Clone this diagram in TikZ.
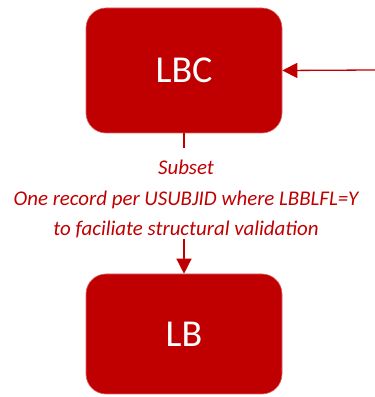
\documentclass[tikz,border=0pt]{standalone}
\usepackage{fontspec}
\setmainfont{Carlito}
\usetikzlibrary{arrows.meta}
\definecolor{boxred}{HTML}{C00000}
\tikzset{
  box/.style={fill=boxred, draw=boxred!60!white, line width=0.6pt, rounded corners=20pt, minimum width=196pt, inner sep=0pt, text=white, font=\fontsize{38}{40}\selectfont},
  conn/.style={draw=boxred, line width=1.3pt},
  arr/.style={conn, -{Triangle[length=15pt, width=15pt]}},
  lbl/.style={text=boxred, align=center, font=\fontsize{20.9}{30.5}\selectfont\itshape, inner sep=0pt}
}
\begin{document}
\begin{tikzpicture}[x=1pt,y=1pt]
\useasboundingbox (0,0) rectangle (375,397);
\node[box, minimum height=125pt] (LBC) at (184,326.5) {LBC};
\node[box, minimum height=120pt] (LB) at (184,63) {LB};
\coordinate (rin) at (375,327);
\draw[arr] (rin) -- (LBC.east);
\coordinate (g1) at (184,249);
\coordinate (g2) at (184,158);
\node[lbl] (txt) at (186,198) {Subset\\One record per USUBJID where LBBLFL=Y\\to faciliate structural validation};
\draw[conn] (LBC.south) -- (g1);
\draw[arr] (g2) -- (LB.north);
\end{tikzpicture}
\end{document}
